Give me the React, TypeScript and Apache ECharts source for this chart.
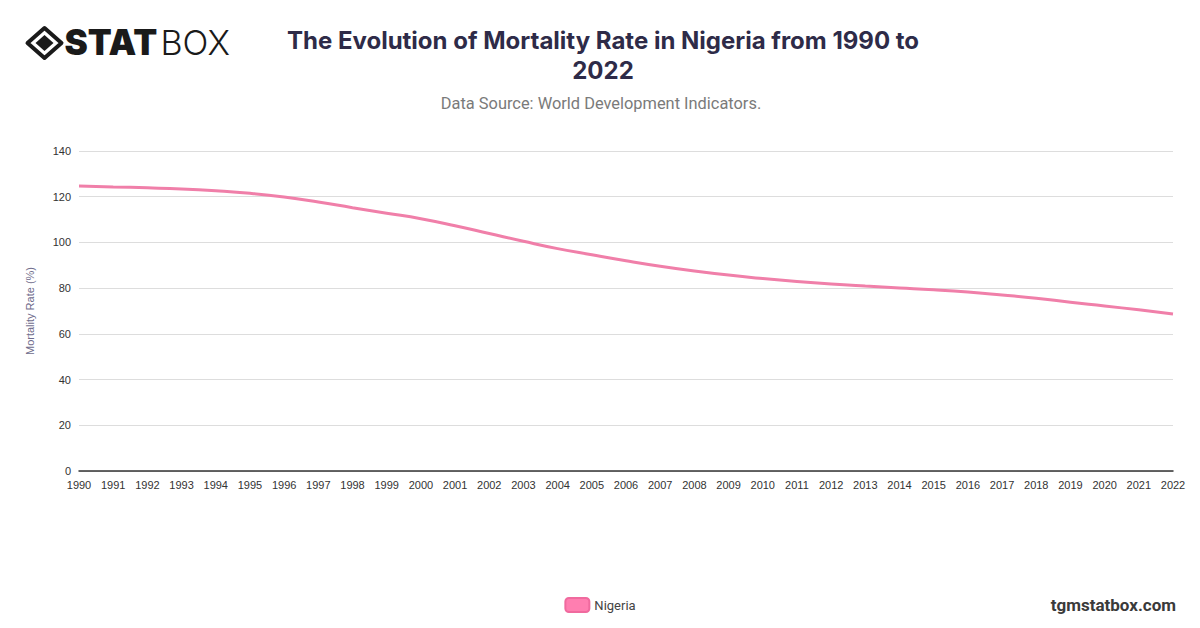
import React, { useEffect, useRef } from "react";
import * as echarts from "echarts";

const years = [
  "1990","1991","1992","1993","1994","1995","1996","1997","1998","1999",
  "2000","2001","2002","2003","2004","2005","2006","2007","2008","2009",
  "2010","2011","2012","2013","2014","2015","2016","2017","2018","2019",
  "2020","2021","2022",
];
const nigeria = [
  124.7, 124.3, 123.9, 123.4, 122.6, 121.5, 119.9, 117.7, 115.2, 112.8,
  110.4, 107.3, 103.9, 100.5, 97.3, 94.6, 92.0, 89.6, 87.5, 85.7,
  84.2, 82.9, 81.8, 80.9, 80.1, 79.3, 78.3, 77.0, 75.6, 73.8,
  72.2, 70.5, 68.7,
];
const yTicks = [0, 20, 40, 60, 80, 100, 120, 140];

const TITLE = "The Evolution of Mortality Rate in Nigeria from 1990 to\n2022";
const SUBTITLE = "Data Source: World Development Indicators.";
const Y_NAME = "Mortality Rate (%)";
const SERIES_NAME = "Nigeria";
const FOOTER = "tgmstatbox.com";

export default function App() {
  const ref = useRef<HTMLDivElement>(null);
  useEffect(() => {
    if (!ref.current) return;
    const chart = echarts.init(ref.current, null, { renderer: "svg" });
    chart.setOption({
      animation: false,
      backgroundColor: "#ffffff",
      title: [
        {
          text: TITLE,
          left: 598,
          top: 20,
          textAlign: "center",
          textStyle: {
            fontFamily: "Inter",
            fontWeight: 700,
            fontSize: 24,
            lineHeight: 30,
            color: "#2e2b48",
          },
        },
        {
          text: SUBTITLE,
          left: 596,
          top: 90,
          textAlign: "center",
          textStyle: {
            fontFamily: "Roboto",
            fontWeight: 400,
            fontSize: 16.4,
            color: "#7a7a7a",
          },
        },
      ],
      legend: {
        data: [SERIES_NAME],
        bottom: 10,
        left: "center",
        icon: "roundRect",
        itemWidth: 24,
        itemHeight: 14,
        itemGap: 6,
        textStyle: { fontFamily: "Roboto", fontSize: 13, color: "#444" },
      },
      grid: { left: 79, right: 27, top: 151, bottom: 157, containLabel: false },
      xAxis: {
        type: "category",
        data: years,
        boundaryGap: false,
        axisLine: { show: true, lineStyle: { color: "#333", width: 1.5 } },
        axisTick: { show: false },
        axisLabel: {
          color: "#333",
          fontFamily: "Liberation Sans",
          fontSize: 11,
          interval: 0,
          margin: 8,
        },
        splitLine: { show: false },
      },
      yAxis: {
        type: "value",
        min: 0,
        max: 140,
        interval: 20,
        name: Y_NAME,
        nameLocation: "middle",
        nameGap: 44,
        nameTextStyle: {
          color: "#6f6c8c",
          fontFamily: "Liberation Sans",
          fontSize: 11,
        },
        axisLine: { show: false },
        axisTick: { show: false },
        axisLabel: {
          color: "#333",
          fontFamily: "Liberation Sans",
          fontSize: 11,
          margin: 8,
          formatter: (v: number) => (yTicks.includes(v) ? String(v) : ""),
        },
        splitLine: { lineStyle: { color: "#dddddd", width: 1 } },
      },
      series: [
        {
          name: SERIES_NAME,
          type: "line",
          data: nigeria,
          smooth: true,
          showSymbol: false,
          symbol: "none",
          itemStyle: { color: "#ff7eb0", borderColor: "#f06a9e", borderWidth: 1 },
          lineStyle: { color: "#f07fa9", width: 3 },
        },
      ],
      graphic: [
        {
          type: "group",
          left: 25,
          top: 24,
          children: [
            {
              type: "polygon",
              shape: { points: [[19, 2], [36, 17], [19, 32], [2, 17]] },
              style: { fill: "none", stroke: "#1a1a1a", lineWidth: 4, lineJoin: "round" },
            },
            {
              type: "polygon",
              shape: { points: [[19, 9], [28, 17], [19, 25], [10, 17]] },
              style: { fill: "#1a1a1a" },
            },
            {
              type: "text",
              x: 39,
              y: -2,
              style: {
                text: "STAT",
                fontFamily: "Inter",
                fontWeight: 900,
                fontSize: 35,
                fill: "#1a1a1a",
              },
            },
            {
              type: "text",
              x: 135,
              y: -1,
              style: {
                text: "BOX",
                fontFamily: "Inter",
                fontWeight: 300,
                fontSize: 34,
                fill: "#1a1a1a",
              },
            },
          ],
        },
        {
          type: "text",
          right: 24,
          top: 596,
          style: {
            text: FOOTER,
            fontFamily: "Roboto",
            fontWeight: 700,
            fontSize: 17,
            fill: "#3a3a3a",
          },
        },
      ],
    });
    return () => chart.dispose();
  }, []);
  return <div ref={ref} style={{ width: 1200, height: 628, margin: -8 }} />;
}
